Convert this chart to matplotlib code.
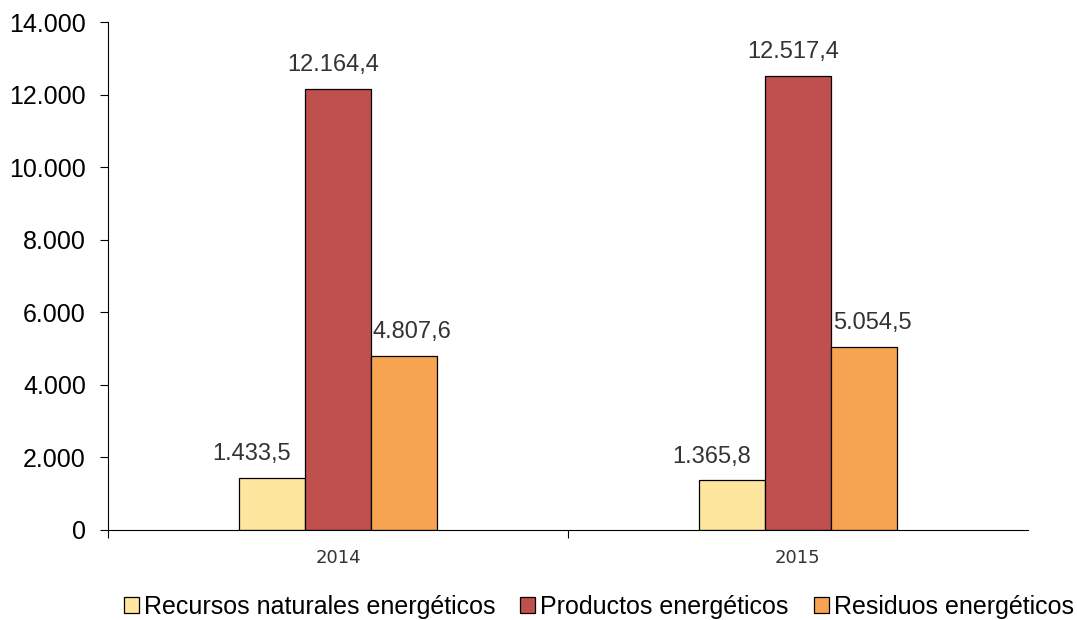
import numpy as np
import matplotlib.pyplot as plt
from matplotlib.patches import Patch

years = ["2014", "2015"]
series = ["Recursos naturales energéticos", "Productos energéticos", "Residuos energéticos"]
recursos = [1433.5, 1365.8]
productos = [12164.4, 12517.4]
residuos = [4807.6, 5054.5]
colors = ["#FFE69F", "#C0504D", "#F7A452"]


def fmt(v, dec=0):
    s = f"{v:,.{dec}f}"
    return s.replace(",", "X").replace(".", ",").replace("X", ".")


plt.rcParams["font.family"] = ["Liberation Sans", "DejaVu Sans"]
fig = plt.figure(figsize=(10.77, 6.2), dpi=100)
ax = fig.add_axes([0.1003, 0.1452, 0.854, 0.8193])

x = np.arange(len(years))
w = 0.144
label_dx = [-20, -5, 8]  # pixel shifts of the value labels, per series
for i, (vals, c) in enumerate(zip([recursos, productos, residuos], colors)):
    pos = x + (i - 1) * w
    ax.bar(pos, vals, width=w, color=c, edgecolor="black", linewidth=0.9)
    for p, v in zip(pos, vals):
        ax.annotate(fmt(v, 1), (p, v), xytext=(label_dx[i] * 0.72, 9), textcoords="offset points",
                    ha="center", va="bottom", fontsize=17, color="#333333")

ax.set_xlim(-0.5, 1.5)
ax.set_ylim(0, 14000)
ax.set_yticks(range(0, 14001, 2000))
ax.set_yticklabels([fmt(v) for v in range(0, 14001, 2000)], fontsize=18)
ax.set_xticks([-0.5, 0.5])
ax.set_xticklabels([])
ax.set_xticks(x, minor=True)
ax.set_xticklabels(years, minor=True, fontsize=13, family="DejaVu Sans", color="#333333")
ax.tick_params(axis="x", which="minor", length=0, pad=14)
ax.tick_params(axis="x", which="major", length=6, direction="out")
ax.tick_params(axis="y", length=6, direction="out", pad=10)
for s in ["top", "right"]:
    ax.spines[s].set_visible(False)

handles = [Patch(facecolor=c, edgecolor="black", linewidth=0.9) for c in colors]
fig.legend(handles, series, loc="lower center", bbox_to_anchor=(0.556, -0.035), ncol=3,
           frameon=False, fontsize=18, handlelength=0.6, handleheight=0.6,
           handletextpad=0.2, columnspacing=1.0)

fig.savefig("out.png", dpi=100)
